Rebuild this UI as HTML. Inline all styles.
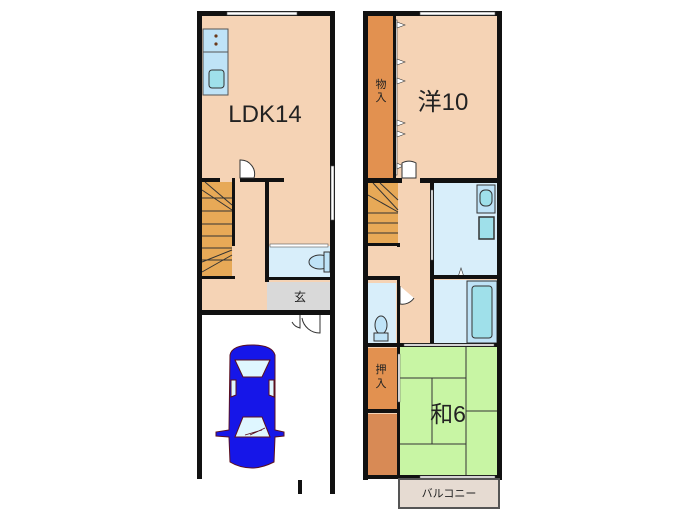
<!DOCTYPE html>
<html><head><meta charset="utf-8"><style>
html,body{margin:0;padding:0;background:#fff;}
svg{display:block}
text{font-family:"Liberation Sans","Noto Sans CJK JP",sans-serif;fill:#222}
</style></head><body>
<svg width="700" height="525" viewBox="0 0 700 525" xmlns="http://www.w3.org/2000/svg">
<rect width="700" height="525" fill="#fff"/>
<!-- LEFT BUILDING -->
<rect x="200" y="14" width="132" height="298" fill="#f5d3b5"/>
<rect x="203" y="29" width="25" height="66" fill="#bfe3f7" stroke="#555" stroke-width="1"/>
<line x1="203" y1="52" x2="228" y2="52" stroke="#555"/>
<circle cx="216" cy="36" r="1.6" fill="#6a3a1a"/><circle cx="216" cy="44" r="1.6" fill="#6a3a1a"/>
<rect x="209" y="70" width="15" height="18" rx="3" fill="#9fe0ea" stroke="#333"/>
<rect x="202" y="182" width="30" height="96" fill="#e7a957"/>
<g stroke="#333" stroke-width="1">
<line x1="202" y1="198" x2="232" y2="198"/><line x1="202" y1="211" x2="232" y2="211"/>
<line x1="202" y1="224" x2="232" y2="224"/><line x1="202" y1="236" x2="232" y2="236"/>
<line x1="202" y1="248" x2="232" y2="248"/><line x1="202" y1="260" x2="232" y2="260"/>
<line x1="205" y1="182" x2="232" y2="205"/><line x1="202" y1="190" x2="232" y2="210"/>
<line x1="202" y1="262" x2="232" y2="250"/><line x1="202" y1="272" x2="232" y2="255"/>
</g>
<rect x="269" y="246" width="61" height="32" fill="#d8eefa"/>
<ellipse cx="320" cy="262" rx="11" ry="7" fill="#bfe3f7" stroke="#333"/>
<rect x="324" y="252" width="6" height="20" fill="#bfe3f7" stroke="#333"/>
<rect x="267" y="282" width="63" height="28" fill="#d9d9d9"/>
<text x="300" y="301" font-size="12" text-anchor="middle">玄</text>
<g fill="#111">
<rect x="197" y="11" width="5" height="303"/>
<rect x="330" y="11" width="5" height="303"/>
<rect x="197" y="11" width="138" height="5"/>
<rect x="202" y="178" width="18" height="4"/>
<rect x="240" y="178" width="44" height="4"/>
<rect x="232" y="178" width="3" height="68"/>
<rect x="202" y="276" width="33" height="3"/>
<rect x="265" y="178" width="4" height="104"/>
<rect x="265" y="277" width="67" height="3"/>
<rect x="197" y="310" width="138" height="5"/>
<rect x="197" y="314" width="5" height="165"/>
<rect x="330" y="314" width="5" height="180"/>
<rect x="298" y="480" width="4" height="14"/>
</g>
<rect x="227" y="12" width="70" height="3" fill="#fff" stroke="#555" stroke-width=".6"/>
<rect x="331" y="166" width="3" height="54" fill="#fff" stroke="#555" stroke-width=".6"/>
<rect x="270" y="244" width="58" height="3" fill="#fff" stroke="#555" stroke-width=".6"/>
<path d="M240 178 V160 A14 14 0 0 1 254 178 Z" fill="#fff" stroke="#333" stroke-width="1"/>
<path d="M300 315 V328 A12 12 0 0 1 292 322" fill="none" stroke="#333"/>
<path d="M320 315 V333 A18 18 0 0 1 302 318" fill="none" stroke="#333"/>
<text x="265" y="122" font-size="24" text-anchor="middle">LDK14</text>
<g stroke="#5a1020" stroke-width="1">
<path d="M230 355 Q232 345 252 345 Q272 345 275 355 L275 430 L284 432 L284 436 L275 437 L274 462 Q262 468 252 468 Q240 468 230 462 L229 437 L216 436 L216 432 L229 430 Z" fill="#1616e8"/>
<path d="M235 360 L270 360 L262 377 L243 377 Z" fill="#dff7ff"/>
<path d="M243 417 L262 417 L270 437 L235 437 Z" fill="#dff7ff"/>
<path d="M231 380 L236 380 L236 395 L231 397 Z" fill="#dff7ff"/>
<path d="M274 380 L269 380 L269 395 L274 397 Z" fill="#dff7ff"/>
<path d="M236 437 L270 437" fill="none"/>
<path d="M245 435 L262 430 M250 435 L265 428" fill="none" stroke-width=".8"/>
</g>
<!-- RIGHT BUILDING -->
<rect x="366" y="14" width="133" height="464" fill="#f5d3b5"/>
<rect x="368" y="16" width="25" height="162" fill="#e29150"/>
<text x="381" y="88" font-size="11" text-anchor="middle">物</text>
<text x="381" y="101" font-size="11" text-anchor="middle">入</text>
<g fill="#fff" stroke="#333" stroke-width=".6">
<rect x="394" y="20" width="3" height="155"/>
<path d="M397 22 L405 25 L397 28Z M397 59 L405 62 L397 65Z M397 78 L405 81 L397 84Z M397 120 L405 123 L397 126Z M397 131 L405 134 L397 137Z M397 163 L403 166 L397 169Z"/>
</g>
<text x="443" y="110" font-size="24" text-anchor="middle">洋10</text>
<rect x="368" y="183" width="30" height="60" fill="#e7a957"/>
<g stroke="#333">
<line x1="368" y1="213" x2="398" y2="213"/><line x1="368" y1="223" x2="398" y2="223"/><line x1="368" y1="233" x2="398" y2="233"/>
<line x1="373" y1="183" x2="398" y2="210"/><line x1="380" y1="183" x2="398" y2="200"/><line x1="368" y1="195" x2="398" y2="212"/>
</g>
<rect x="434" y="183" width="63" height="94" fill="#d8eefa"/>
<rect x="477" y="185" width="18" height="28" fill="#bfe3f7" stroke="#333"/>
<rect x="480" y="190" width="12" height="16" rx="5" fill="#9fe0ea" stroke="#333"/>
<rect x="479" y="217" width="15" height="22" fill="#9fe0ea" stroke="#333" stroke-width="1.5"/>
<rect x="434" y="280" width="63" height="64" fill="#d8eefa"/>
<rect x="467" y="281" width="30" height="62" fill="#bfe3f7" stroke="#333"/>
<rect x="472" y="286" width="20" height="52" rx="3" fill="#9fe0ea" stroke="#333"/>
<path d="M458 277 L461 268 L464 277Z" fill="#fff" stroke="#333" stroke-width=".6"/>
<rect x="368" y="283" width="28" height="60" fill="#d8eefa"/>
<ellipse cx="381" cy="325" rx="6" ry="9" fill="#bfe3f7" stroke="#333"/>
<rect x="374" y="333" width="14" height="8" fill="#bfe3f7" stroke="#333"/>
<path d="M400 286 V304 A14 14 0 0 0 414 298" fill="#fff" stroke="#333"/>
<rect x="368" y="348" width="29" height="61" fill="#e29150"/>
<text x="381" y="373" font-size="11" text-anchor="middle">押</text>
<text x="381" y="387" font-size="11" text-anchor="middle">入</text>
<rect x="368" y="414" width="30" height="62" fill="#d88a55"/>
<rect x="400" y="347" width="97" height="129" fill="#c8f5a4"/>
<g stroke="#333" stroke-width="1" fill="none">
<line x1="466" y1="347" x2="466" y2="476"/>
<line x1="400" y1="378" x2="466" y2="378"/>
<line x1="432" y1="378" x2="432" y2="444"/>
<line x1="400" y1="444" x2="466" y2="444"/>
<line x1="466" y1="411" x2="497" y2="411"/>
</g>
<text x="448" y="422" font-size="23" text-anchor="middle">和6</text>
<g fill="#111">
<rect x="363" y="11" width="5" height="469"/>
<rect x="497" y="11" width="5" height="469"/>
<rect x="363" y="11" width="139" height="5"/>
<rect x="393" y="16" width="3" height="162"/>
<rect x="363" y="178" width="39" height="5"/>
<rect x="420" y="178" width="82" height="5"/>
<rect x="430" y="178" width="4" height="168"/>
<rect x="368" y="243" width="32" height="3"/>
<rect x="368" y="276" width="32" height="4"/>
<rect x="397" y="276" width="3" height="68"/>
<rect x="397" y="243" width="3" height="4"/>
<rect x="434" y="275" width="63" height="4"/>
<rect x="363" y="343" width="139" height="4"/>
<rect x="397" y="347" width="3" height="66"/>
<rect x="366" y="409" width="33" height="4"/>
<rect x="397" y="413" width="3" height="63"/>
<rect x="363" y="475" width="139" height="4"/>
</g>
<rect x="420" y="12" width="75" height="3" fill="#fff" stroke="#555" stroke-width=".6"/>
<rect x="431" y="190" width="2" height="70" fill="#fff" stroke="#555" stroke-width=".5"/>
<rect x="398" y="354" width="2" height="48" fill="#fff" stroke="#555" stroke-width=".5"/>
<rect x="404" y="344" width="90" height="2" fill="#fff" stroke="#555" stroke-width=".5"/>
<rect x="420" y="476" width="75" height="2" fill="#fff" stroke="#555" stroke-width=".5"/>
<path d="M402 178 V163 A14 14 0 0 1 416 163 V178 Z" fill="#fff" stroke="#333"/>
<rect x="399" y="479" width="100" height="29" fill="#e6dbd2" stroke="#555" stroke-width="2"/>
<text x="449" y="497" font-size="11" text-anchor="middle">バルコニー</text>
</svg>
</body></html>
